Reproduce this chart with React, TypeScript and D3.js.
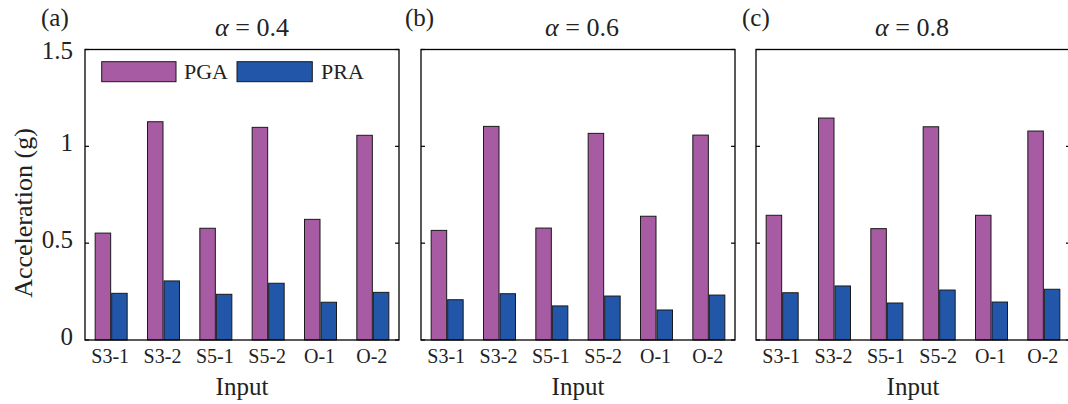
import React from 'react';
import * as d3 from 'd3';

// data
const categories = ['S3-1', 'S3-2', 'S5-1', 'S5-2', 'O-1', 'O-2'];
const seriesNames = ['PGA', 'PRA'];
const alphaValues = ['0.4', '0.6', '0.8'];
const panelTags = ['(a)', '(b)', '(c)'];

const pgaA = [0.552, 1.127, 0.577, 1.098, 0.623, 1.057];
const praA = [0.241, 0.305, 0.236, 0.293, 0.195, 0.246];
const pgaB = [0.566, 1.103, 0.578, 1.067, 0.639, 1.058];
const praB = [0.208, 0.239, 0.176, 0.227, 0.155, 0.232];
const pgaC = [0.644, 1.146, 0.575, 1.101, 0.644, 1.079];
const praC = [0.244, 0.279, 0.191, 0.258, 0.196, 0.262];

const yTicks = [0, 0.5, 1, 1.5];
const yTickLabels = ['0', '0.5', '1', '1.5'];

const panels = [
  { pga: pgaA, pra: praA },
  { pga: pgaB, pra: praB },
  { pga: pgaC, pra: praC },
];

// layout
const W = 1068;
const H = 404;
const panelLefts = [85, 421, 756];
const panelW = 314;
const top = 49.5;
const bottom = 340;
const titleX = [252, 582, 912];
const tagX = [41, 405, 742];
const colors = ['#A65BA3', '#2256A8'];
const ts = { fontFamily: 'Liberation Serif', fill: '#222' };

const y = d3.scaleLinear().domain([0, 1.5]).range([bottom, top]);

const Panel = ({ idx }: { idx: number }) => {
  const left = panelLefts[idx];
  const x = d3.scaleBand<string>().domain(categories).range([left, left + panelW]).padding(0);
  const inner = d3.scaleBand<string>().domain(seriesNames).range([-16, 16]).paddingInner(0.06);
  const vals = [panels[idx].pga, panels[idx].pra];
  return (
    <g>
      {categories.map((c, i) =>
        seriesNames.map((s, j) => {
          const cx = (x(c) as number) + x.bandwidth() / 2;
          const v = vals[j][i];
          return (
            <rect
              key={c + s}
              x={cx + (inner(s) as number)}
              y={y(v)}
              width={inner.bandwidth()}
              height={y(0) - y(v)}
              fill={colors[j]}
              stroke="#1a1a1a"
              strokeWidth={1}
            />
          );
        })
      )}
      <rect x={left} y={top} width={panelW} height={bottom - top} fill="none" stroke="#000" strokeWidth={1.3} />
      {yTicks.map((t) => (
        <g key={t}>
          <line x1={left} x2={left + 4} y1={y(t)} y2={y(t)} stroke="#000" strokeWidth={1.2} />
          <line x1={left + panelW - 4} x2={left + panelW} y1={y(t)} y2={y(t)} stroke="#000" strokeWidth={1.2} />
        </g>
      ))}
      {idx === 0 &&
        yTicks.map((t, i) => (
          <text
            key={'yl' + t}
            x={left - 12}
            y={y(t) + (t === 1.5 ? 3.5 : -1)}
            textAnchor="end"
            dominantBaseline="middle"
            fontSize={25}
            style={ts}
          >
            {yTickLabels[i]}
          </text>
        ))}
      {categories.map((c) => (
        <text key={'xl' + c} x={(x(c) as number) + x.bandwidth() / 2 - 1} y={363} textAnchor="middle" fontSize={20} style={ts}>
          {c}
        </text>
      ))}
      <text x={left + panelW / 2} y={395} textAnchor="middle" fontSize={25} style={ts}>
        Input
      </text>
      <text x={titleX[idx]} y={36} textAnchor="middle" fontSize={26} style={ts}>
        <tspan fontStyle="italic">α</tspan> = {alphaValues[idx]}
      </text>
      <text x={tagX[idx]} y={26} fontSize={25} style={ts}>
        {panelTags[idx]}
      </text>
    </g>
  );
};

export default function App() {
  return (
    <svg width={W} height={H} style={{ position: 'absolute', left: 0, top: 0, background: '#fff' }}>
      {panels.map((_, i) => (
        <Panel key={i} idx={i} />
      ))}
      <text transform="translate(32,213) rotate(-90)" textAnchor="middle" fontSize={26} style={ts}>
        Acceleration (g)
      </text>
      {/* legend */}
      <g>
        <rect x={101.7} y={61.7} width={74.3} height={20} fill={colors[0]} stroke="#1a1a1a" strokeWidth={1} />
        <text x={184} y={79} fontSize={22} style={ts}>PGA</text>
        <rect x={237} y={61.7} width={75.3} height={20} fill={colors[1]} stroke="#1a1a1a" strokeWidth={1} />
        <text x={321} y={79} fontSize={22} style={ts}>PRA</text>
      </g>
    </svg>
  );
}
